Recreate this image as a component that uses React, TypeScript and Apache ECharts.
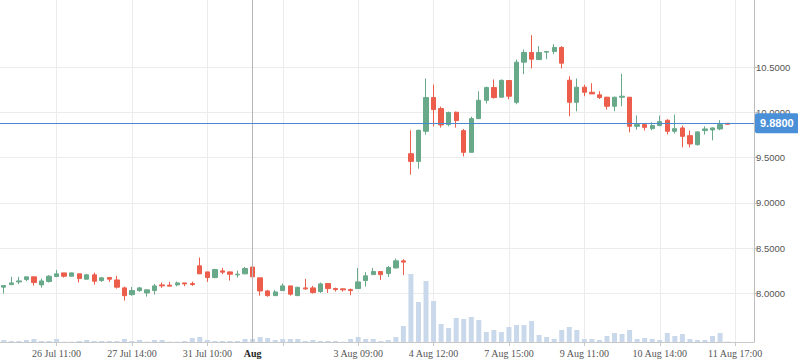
import React, { useEffect, useRef } from 'react';
import * as echarts from 'echarts';

// Hourly sessions 09:00-15:00
const categories = [
  '25 Jul 11:00', '25 Jul 12:00', '25 Jul 13:00', '25 Jul 14:00', '25 Jul 15:00',
  '26 Jul 09:00', '26 Jul 10:00', '26 Jul 11:00', '26 Jul 12:00', '26 Jul 13:00', '26 Jul 14:00', '26 Jul 15:00',
  '27 Jul 09:00', '27 Jul 10:00', '27 Jul 11:00', '27 Jul 12:00', '27 Jul 13:00', '27 Jul 14:00', '27 Jul 15:00',
  '28 Jul 09:00', '28 Jul 10:00', '28 Jul 11:00', '28 Jul 12:00', '28 Jul 13:00', '28 Jul 14:00', '28 Jul 15:00',
  '31 Jul 09:00', '31 Jul 10:00', '31 Jul 11:00', '31 Jul 12:00', '31 Jul 13:00', '31 Jul 14:00', '31 Jul 15:00',
  '1 Aug 09:00', '1 Aug 10:00', '1 Aug 11:00', '1 Aug 12:00', '1 Aug 13:00', '1 Aug 14:00', '1 Aug 15:00',
  '2 Aug 09:00', '2 Aug 10:00', '2 Aug 11:00', '2 Aug 12:00', '2 Aug 13:00', '2 Aug 14:00', '2 Aug 15:00',
  '3 Aug 09:00', '3 Aug 10:00', '3 Aug 11:00', '3 Aug 12:00', '3 Aug 13:00', '3 Aug 14:00', '3 Aug 15:00',
  '4 Aug 09:00', '4 Aug 10:00', '4 Aug 11:00', '4 Aug 12:00', '4 Aug 13:00', '4 Aug 14:00', '4 Aug 15:00',
  '7 Aug 09:00', '7 Aug 10:00', '7 Aug 11:00', '7 Aug 12:00', '7 Aug 13:00', '7 Aug 14:00', '7 Aug 15:00',
  '8 Aug 09:00', '8 Aug 10:00', '8 Aug 11:00', '8 Aug 12:00', '8 Aug 13:00', '8 Aug 14:00', '8 Aug 15:00',
  '9 Aug 09:00', '9 Aug 10:00', '9 Aug 11:00', '9 Aug 12:00', '9 Aug 13:00', '9 Aug 14:00', '9 Aug 15:00',
  '10 Aug 09:00', '10 Aug 10:00', '10 Aug 11:00', '10 Aug 12:00', '10 Aug 13:00', '10 Aug 14:00', '10 Aug 15:00',
  '11 Aug 09:00', '11 Aug 10:00', '11 Aug 11:00', '11 Aug 12:00', '11 Aug 13:00', '11 Aug 14:00', '11 Aug 15:00',
  '11 Aug 16:00', '11 Aug 17:00', '11 Aug 18:00', '11 Aug 19:00',
];

const opens = [
  8.067, 8.095, 8.125, 8.151, 8.181, 8.092, 8.129, 8.184, 8.225, 8.188,
  8.214, 8.155, 8.203, 8.140, 8.173, 8.147, 8.059, 7.984, 8.029, 8.003,
  8.029, 8.092, 8.089, 8.092, 8.114, 8.107, 8.303, 8.236, 8.173, 8.247,
  8.236, 8.203, 8.214, 8.290, 8.170, 8.025, 7.973, 8.029, 8.081, 7.973,
  8.059, 8.059, 8.018, 8.107, 8.051, 8.048, 8.040, 8.051, 8.140, 8.206,
  8.240, 8.217, 8.280, 8.358, 9.544, 9.459, 9.792, 10.165, 10.043, 9.866,
  10.003, 9.799, 9.559, 9.932, 10.135, 10.276, 10.169, 10.354, 10.113, 10.557,
  10.664, 10.586, 10.668, 10.675, 10.720, 10.357, 10.113, 10.280, 10.224, 10.195,
  10.169, 10.069, 10.169, 10.169, 9.847, 9.866, 9.822, 9.855, 9.914, 9.792,
  9.829, 9.744, 9.644, 9.800, 9.807, 9.818, 9.880,
];
const closes = [
  8.084, 8.114, 8.136, 8.181, 8.118, 8.136, 8.188, 8.214, 8.188, 8.225,
  8.162, 8.203, 8.133, 8.170, 8.155, 8.067, 7.973, 8.029, 8.059, 8.037,
  8.081, 8.081, 8.078, 8.114, 8.103, 8.096, 8.214, 8.173, 8.262, 8.233,
  8.210, 8.210, 8.273, 8.181, 8.025, 7.973, 8.014, 8.081, 7.989, 8.066,
  8.048, 8.007, 8.103, 8.051, 8.040, 8.037, 8.029, 8.125, 8.192, 8.240,
  8.206, 8.284, 8.358, 8.344, 9.459, 9.803, 10.165, 10.032, 9.862, 9.999,
  9.910, 9.559, 9.932, 10.135, 10.276, 10.165, 10.356, 10.180, 10.557, 10.664,
  10.590, 10.664, 10.675, 10.720, 10.546, 10.113, 10.280, 10.224, 10.206, 10.165,
  10.069, 10.169, 10.180, 9.847, 9.866, 9.836, 9.855, 9.899, 9.792, 9.821,
  9.736, 9.652, 9.785, 9.818, 9.829, 9.866, 9.870,
];
const lows = [
  7.996, 8.089, 8.100, 8.133, 8.084, 8.062, 8.118, 8.184, 8.173, 8.184,
  8.118, 8.155, 8.095, 8.125, 8.125, 8.051, 7.918, 7.973, 8.015, 7.962,
  7.985, 8.059, 8.078, 8.077, 8.077, 8.081, 8.214, 8.125, 8.166, 8.210,
  8.140, 8.173, 8.210, 8.155, 7.973, 7.962, 7.973, 8.029, 7.973, 7.973,
  8.037, 7.996, 8.003, 8.003, 8.018, 8.018, 7.978, 8.051, 8.073, 8.206,
  8.147, 8.180, 8.273, 8.200, 9.312, 9.378, 9.755, 9.847, 9.833, 9.847,
  9.833, 9.514, 9.559, 9.930, 10.100, 10.154, 10.169, 10.146, 10.091, 10.424,
  10.487, 10.579, 10.590, 10.645, 10.487, 9.958, 10.013, 10.180, 10.206, 10.150,
  10.032, 10.013, 10.069, 9.780, 9.810, 9.800, 9.803, 9.848, 9.758, 9.766,
  9.614, 9.614, 9.633, 9.755, 9.692, 9.803, 9.866,
];
const highs = [
  8.089, 8.181, 8.181, 8.181, 8.181, 8.162, 8.200, 8.258, 8.225, 8.229,
  8.214, 8.214, 8.228, 8.180, 8.181, 8.192, 8.073, 8.070, 8.070, 8.040,
  8.103, 8.118, 8.125, 8.129, 8.114, 8.129, 8.395, 8.236, 8.270, 8.280,
  8.240, 8.250, 8.290, 8.325, 8.170, 8.037, 8.037, 8.107, 8.081, 8.066,
  8.159, 8.081, 8.118, 8.107, 8.062, 8.055, 8.051, 8.280, 8.233, 8.280,
  8.240, 8.300, 8.384, 8.377, 9.803, 9.810, 10.376, 10.309, 10.065, 10.010,
  10.010, 9.818, 9.954, 10.235, 10.287, 10.365, 10.365, 10.354, 10.587, 10.697,
  10.856, 10.734, 10.675, 10.756, 10.734, 10.401, 10.376, 10.309, 10.324, 10.235,
  10.175, 10.175, 10.428, 10.169, 9.966, 9.870, 9.891, 9.966, 9.925, 9.977,
  9.855, 9.800, 9.792, 9.847, 9.836, 9.914, 9.882,
];
const volumes = [
  2, 1, 1, 2, 3, 1, 1, 3, 0.3, 0.3,
  1, 2, 1, 1, 1, 1, 3, 1, 2, 0.3,
  2, 2, 0.3, 0.3, 1, 4, 5, 2, 1, 1,
  1, 1, 3, 3, 5, 4, 2, 3, 3, 3,
  1, 2, 1, 1, 1, 0.3, 3, 5, 3, 3,
  1, 2, 5, 16, 68, 40, 61, 41, 18, 14,
  24, 23, 25, 22, 10, 12, 10, 15, 17, 17,
  21, 7, 5, 3, 12, 15, 12, 3, 3, 2,
  6, 9, 8, 12, 3, 4, 3, 2, 9, 6,
  8, 3, 2, 2, 6, 9, 0.3,
];

const yTicks = [8.0, 8.5, 9.0, 9.5, 10.0, 10.5];
const yMin = 7.46;
const yMax = 11.245;
const volumeAxisMax = 342;
const lastPrice = 9.88;
const crosshairAt = '1 Aug 09:00';
const monthLabel = 'Aug';
const labelEvery = 10;
const labelOffset = 7;

const UP = '#68a98a';
const DOWN = '#ec5d4b';

export default function App() {
  const ref = useRef<HTMLDivElement>(null);
  useEffect(() => {
    if (!ref.current) return;
    const chart = echarts.init(ref.current, undefined, { renderer: 'svg' });
    const crossIdx = categories.indexOf(crosshairAt);
    const isGridIdx = (i: number) => i % labelEvery === labelOffset;
    const showLabel = (i: number) => i === crossIdx || (isGridIdx(i) && Math.abs(i - crossIdx) > 5);
    const candleData = opens.map((o, i) => [o, closes[i], lows[i], highs[i]]);
    chart.setOption({
      animation: false,
      backgroundColor: '#fff',
      grid: { left: 0, right: 44, top: 0, bottom: 21, containLabel: false },
      xAxis: {
        type: 'category',
        data: categories,
        boundaryGap: true,
        axisLine: { show: true, lineStyle: { color: '#c8c8c8' } },
        axisTick: {
          show: true,
          alignWithLabel: true,
          interval: (i: number) => isGridIdx(i),
          length: 4,
          lineStyle: { color: '#c8c8c8' },
        },
        axisLabel: {
          interval: (i: number) => showLabel(i),
          margin: 6,
          fontFamily: 'Liberation Serif',
          fontSize: 10,
          color: '#555',
          formatter: (v: string, i: number) => (i === crossIdx ? `{b|${monthLabel}}` : v),
          rich: {
            b: { fontFamily: 'Liberation Serif', fontSize: 10, fontWeight: 'bold', color: '#222' },
          },
        },
        splitLine: {
          show: true,
          alignWithLabel: true,
          interval: (i: number) => isGridIdx(i),
          lineStyle: { color: '#ececec' },
        },
      },
      yAxis: [
        {
          type: 'value',
          position: 'right',
          min: yMin,
          max: yMax,
          axisLine: { show: true, lineStyle: { color: '#bdbdbd' } },
          axisTick: { show: true, length: 4, customValues: yTicks, lineStyle: { color: '#bdbdbd' } },
          axisLabel: {
            customValues: yTicks,
            margin: 2,
            fontFamily: 'Liberation Sans',
            fontSize: 9.5,
            color: '#555',
            formatter: (v: number) => v.toFixed(4),
          },
          splitLine: { show: true, lineStyle: { color: '#ececec' } },
        },
        {
          type: 'value',
          min: 0,
          max: volumeAxisMax,
          show: false,
          splitLine: { show: false },
        },
      ],
      series: [
        {
          type: 'bar',
          yAxisIndex: 1,
          data: volumes,
          barWidth: '66%',
          itemStyle: { color: '#c9d8ea' },
          silent: true,
        },
        {
          type: 'candlestick',
          data: candleData,
          barWidth: '64%',
          itemStyle: {
            color: UP,
            color0: DOWN,
            borderColor: UP,
            borderColor0: DOWN,
            borderWidth: 1,
          },
          markLine: {
            silent: true,
            symbol: ['none', 'none'],
            animation: false,
            data: [
              {
                xAxis: crosshairAt,
                lineStyle: { color: '#b5b5b5', width: 1, type: 'solid' },
                label: { show: false },
              },
              {
                yAxis: lastPrice,
                lineStyle: { color: '#4a88cf', width: 1, type: 'solid' },
                label: {
                  show: true,
                  position: 'end',
                  distance: 1,
                  formatter: lastPrice.toFixed(4),
                  backgroundColor: '#4a90d9',
                  color: '#fff',
                  fontFamily: 'Liberation Sans',
                  fontSize: 11,
                  fontWeight: 'bold',
                  lineHeight: 11,
                  padding: [4, 5, 5, 5],
                  borderRadius: 2,
                },
              },
            ],
          },
        },
      ],
    });
    return () => chart.dispose();
  }, []);
  return (
    <div
      ref={ref}
      style={{ position: 'fixed', left: 0, top: 0, width: 798, height: 363, background: '#fff' }}
    />
  );
}
